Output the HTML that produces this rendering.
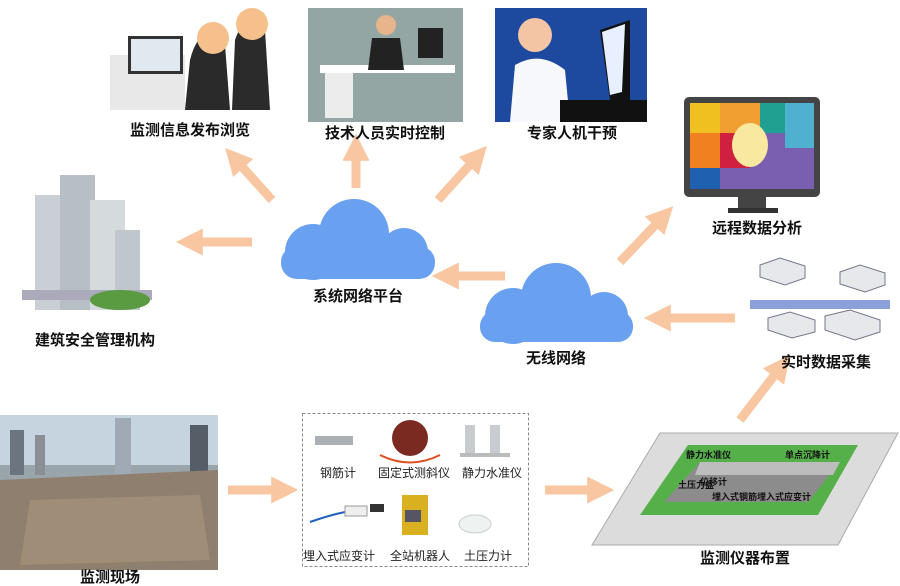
<!DOCTYPE html>
<html><head><meta charset="utf-8"><style>
html,body{margin:0;padding:0;background:#fff;}
svg{display:block;}
text{font-family:"Liberation Sans","Noto Sans CJK SC",sans-serif;font-weight:bold;fill:#111;}
.s{font-weight:normal;font-size:12px;fill:#222;}
</style></head><body>
<svg width="900" height="586" viewBox="0 0 900 586" xmlns="http://www.w3.org/2000/svg">
<defs>
<marker id="ah" markerWidth="3" markerHeight="3" refX="1.2" refY="1.5" orient="auto" markerUnits="strokeWidth">
<path d="M0,0 L3,1.5 L0,3 z" fill="#f8c6a0"/></marker>
</defs>
<g stroke="#f8c6a0" stroke-width="9" fill="none" marker-end="url(#ah)">
<line x1="272" y1="200" x2="236" y2="160"/>
<line x1="356" y1="188" x2="356" y2="150"/>
<line x1="438" y1="200" x2="476" y2="158"/>
<line x1="252" y1="242" x2="192" y2="242"/>
<line x1="505" y1="276" x2="448" y2="276"/>
<line x1="620" y1="262" x2="662" y2="218"/>
<line x1="735" y1="318" x2="660" y2="318"/>
<line x1="740" y1="420" x2="780" y2="368"/>
<line x1="228" y1="490" x2="282" y2="490"/>
<line x1="545" y1="490" x2="598" y2="490"/>
</g>
<!-- clouds -->
<g fill="#6aa0f0">
<circle cx="354" cy="234" r="35"/><circle cx="313" cy="252" r="28"/><circle cx="404" cy="252" r="24"/><rect x="281" y="246" width="154" height="33" rx="16"/>
<circle cx="556" cy="298" r="35"/><circle cx="513" cy="316" r="28"/><circle cx="604" cy="316" r="24"/><rect x="480" y="311" width="153" height="31" rx="15"/>
</g>
<!-- top pictures -->
<rect x="110" y="55" width="75" height="55" fill="#e8e8e8"/>
<rect x="128" y="36" width="55" height="38" fill="#333"/><rect x="131" y="39" width="49" height="32" fill="#dfe9ef"/>
<path d="M185 110 L190 60 Q200 20 225 45 L230 110 Z" fill="#2a2a2a"/>
<path d="M232 110 L235 40 Q245 10 265 30 L270 110 Z" fill="#2b2b2b"/>
<circle cx="213" cy="38" r="16" fill="#f5c08c"/><circle cx="252" cy="24" r="16" fill="#f5c08c"/>
<rect x="308" y="8" width="155" height="114" fill="#93a6a3"/>
<rect x="320" y="65" width="135" height="8" fill="#fff"/><rect x="325" y="73" width="28" height="45" fill="#ececec"/>
<rect x="418" y="28" width="25" height="30" fill="#222"/>
<path d="M368 70 L372 38 L400 38 L404 70 Z" fill="#222"/><circle cx="386" cy="25" r="10" fill="#e8b48c"/>
<rect x="495" y="8" width="152" height="114" fill="#1d4a9e"/>
<path d="M600 30 L630 20 L630 100 L610 100 Z" fill="#111"/><path d="M602 32 L625 24 L622 92 L610 95 Z" fill="#e8f0ff"/>
<path d="M510 122 L515 65 Q540 50 565 70 L570 122 Z" fill="#f6f8fb"/><circle cx="535" cy="35" r="17" fill="#f3c5a5"/>
<path d="M560 100 L647 100 L647 122 L560 122Z" fill="#111"/>
<!-- monitor -->
<rect x="684" y="97" width="136" height="100" rx="5" fill="#444"/>
<rect x="690" y="103" width="124" height="86" fill="#7a5fb0"/>
<rect x="690" y="103" width="30" height="30" fill="#f0c020"/><rect x="720" y="103" width="40" height="30" fill="#f0a030"/><rect x="760" y="103" width="25" height="30" fill="#20a090"/><rect x="785" y="103" width="29" height="45" fill="#50b0d0"/>
<rect x="690" y="133" width="30" height="35" fill="#f08020"/><rect x="720" y="133" width="30" height="35" fill="#d02040"/><rect x="690" y="168" width="30" height="21" fill="#2060b0"/>
<ellipse cx="750" cy="145" rx="18" ry="22" fill="#f8e8a0"/>
<rect x="738" y="197" width="28" height="12" fill="#444"/><rect x="728" y="208" width="50" height="5" fill="#333"/>
<!-- building -->
<rect x="35" y="195" width="32" height="115" fill="#c9cfd4"/><rect x="60" y="175" width="35" height="135" fill="#b7bec5"/><rect x="90" y="200" width="35" height="110" fill="#d5dadd"/><rect x="115" y="230" width="25" height="80" fill="#bfc6cc"/>
<rect x="22" y="290" width="130" height="10" fill="#aab"/><ellipse cx="120" cy="300" rx="30" ry="10" fill="#5a9a40"/>
<!-- servers -->
<path d="M760 265 L780 258 L805 266 L805 278 L785 285 L760 277 Z" fill="#e6e8ec" stroke="#778"/>
<path d="M840 272 L860 265 L885 273 L885 285 L865 292 L840 284 Z" fill="#e6e8ec" stroke="#778"/>
<rect x="750" y="300" width="140" height="9" fill="#8aa0d8"/>
<path d="M768 318 L790 312 L815 320 L815 332 L792 338 L768 330 Z" fill="#e6e8ec" stroke="#778"/>
<path d="M825 316 L850 310 L880 320 L880 332 L855 340 L825 330 Z" fill="#e6e8ec" stroke="#778"/>
<!-- photo bottom left -->
<rect x="0" y="415" width="218" height="155" fill="#9aa5ab"/>
<rect x="0" y="415" width="218" height="50" fill="#c6d4e0"/>
<rect x="10" y="430" width="14" height="45" fill="#6a7580"/><rect x="35" y="435" width="10" height="40" fill="#8a8f95"/><rect x="115" y="418" width="16" height="60" fill="#a0aab4"/><rect x="190" y="425" width="18" height="50" fill="#555e66"/>
<path d="M0 480 L218 470 L218 570 L0 570 Z" fill="#8e7f6e"/><path d="M30 500 L200 495 L210 560 L20 565 Z" fill="#a08d78"/>
<!-- dashed box -->
<rect x="302.5" y="413.5" width="226" height="153" fill="#fff" stroke="#888" stroke-dasharray="3,2"/>
<rect x="315" y="436" width="38" height="9" fill="#aab0b4"/>
<circle cx="410" cy="438" r="18" fill="#7a2a20"/><path d="M380 455 Q410 470 440 455" stroke="#e05020" stroke-width="2" fill="none"/>
<rect x="465" y="425" width="10" height="30" fill="#c8ccd0"/><rect x="490" y="425" width="10" height="30" fill="#c8ccd0"/><rect x="460" y="453" width="50" height="4" fill="#bbb"/>
<path d="M310 522 Q330 515 345 512" stroke="#2060c0" stroke-width="2" fill="none"/><rect x="345" y="506" width="22" height="10" fill="#eee" stroke="#999"/><rect x="370" y="504" width="14" height="8" fill="#333"/>
<rect x="402" y="495" width="26" height="40" fill="#d8b020"/><rect x="405" y="510" width="16" height="12" fill="#556"/>
<ellipse cx="475" cy="524" rx="16" ry="9" fill="#eef2f0" stroke="#ccc"/>
<text class="s" x="338" y="477" text-anchor="middle">钢筋计</text>
<text class="s" x="414" y="477" text-anchor="middle">固定式测斜仪</text>
<text class="s" x="492" y="477" text-anchor="middle">静力水准仪</text>
<text class="s" x="339" y="560" text-anchor="middle">埋入式应变计</text>
<text class="s" x="420" y="560" text-anchor="middle">全站机器人</text>
<text class="s" x="488" y="560" text-anchor="middle">土压力计</text>
<!-- layout plan -->
<path d="M660 433 L898 433 L838 545 L592 545 Z" fill="#dcdcdc" stroke="#aaa"/>
<path d="M688 445 L858 445 L818 515 L640 515 Z" fill="#56b04a"/>
<path d="M700 462 L840 462 L808 502 L664 502 Z" fill="#8c8c8c"/>
<path d="M700 462 L840 462 L833 475 L695 475 Z" fill="#bdbdbd"/>
<text x="686" y="458" font-size="9" fill="#111">静力水准仪</text>
<text x="785" y="458" font-size="9" fill="#111">单点沉降计</text>
<text x="678" y="488" font-size="9" fill="#111">土压力盒</text>
<text x="700" y="485" font-size="9" fill="#111">位移计</text>
<text x="712" y="500" font-size="9" fill="#111">埋入式钢筋埋入式应变计</text>
<!-- labels -->
<g font-size="15">
<text x="190" y="135" text-anchor="middle">监测信息发布浏览</text>
<text x="385" y="138" text-anchor="middle">技术人员实时控制</text>
<text x="572" y="138" text-anchor="middle">专家人机干预</text>
<text x="757" y="233" text-anchor="middle">远程数据分析</text>
<text x="95" y="345" text-anchor="middle">建筑安全管理机构</text>
<text x="358" y="301" text-anchor="middle">系统网络平台</text>
<text x="556" y="363" text-anchor="middle">无线网络</text>
<text x="826" y="367" text-anchor="middle">实时数据采集</text>
<text x="110" y="582" text-anchor="middle">监测现场</text>
<text x="745" y="563" text-anchor="middle">监测仪器布置</text>
</g>
</svg>
</body></html>
